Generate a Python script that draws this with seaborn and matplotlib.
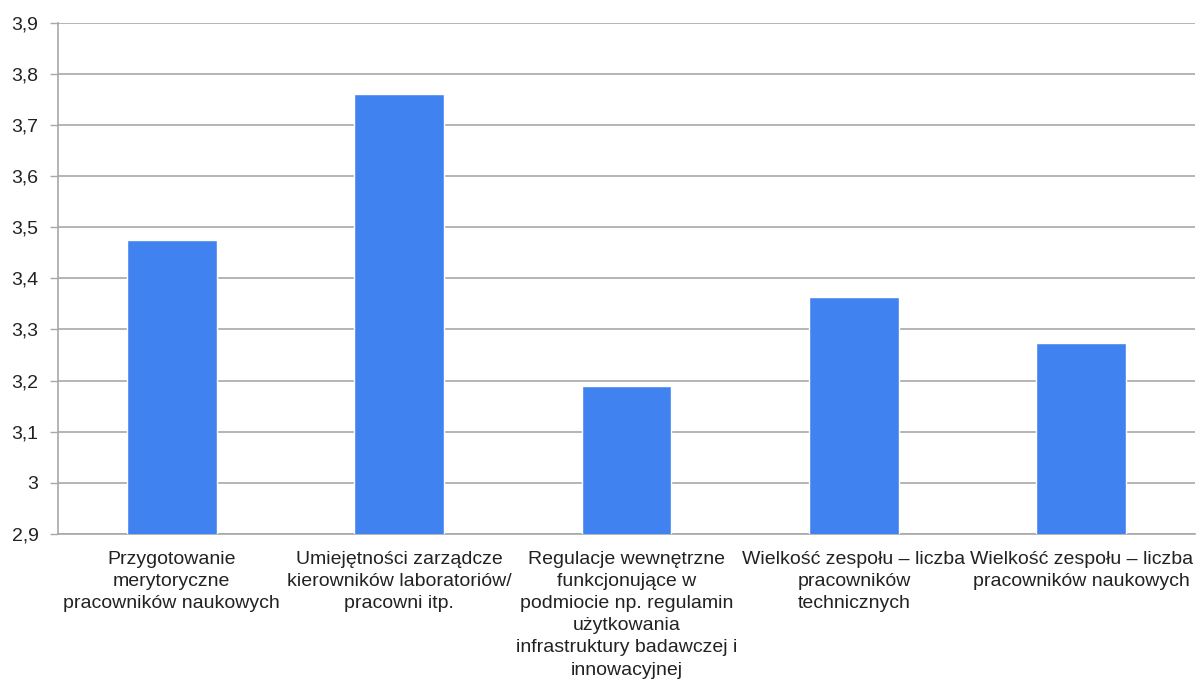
import matplotlib
matplotlib.use("Agg")
import matplotlib.pyplot as plt
import seaborn as sns
import pandas as pd

categories = [
    "Przygotowanie\nmerytoryczne\npracowników naukowych",
    "Umiejętności zarządcze\nkierowników laboratoriów/\npracowni itp.",
    "Regulacje wewnętrzne\nfunkcjonujące w\npodmiocie np. regulamin\nużytkowania\ninfrastruktury badawczej i\ninnowacyjnej",
    "Wielkość zespołu – liczba\npracowników\ntechnicznych",
    "Wielkość zespołu – liczba\npracowników naukowych",
]
values = [3.475, 3.760, 3.189, 3.363, 3.273]
y_ticks = [2.9, 3.0, 3.1, 3.2, 3.3, 3.4, 3.5, 3.6, 3.7, 3.8, 3.9]
y_tick_labels = ["2,9", "3", "3,1", "3,2", "3,3", "3,4", "3,5", "3,6", "3,7", "3,8", "3,9"]

sns.set_style("white")
plt.rcParams["font.family"] = ["Liberation Sans", "DejaVu Sans"]

df = pd.DataFrame({"cat": categories, "val": values})

fig = plt.figure(figsize=(11.96, 6.84), dpi=100)
ax = fig.add_axes([58 / 1196, 1 - 534 / 684, (1195 - 58) / 1196, (534 - 22.5) / 684])

sns.barplot(data=df, x="cat", y="val", color="#4083F0", saturation=1,
            width=0.395, ax=ax, zorder=3)

ax.set_ylim(2.9, 3.9)
ax.set_xlim(-0.5, 4.5)
ax.set_yticks(y_ticks)
ax.set_yticklabels(y_tick_labels, fontsize=14, color="#222222")
ax.yaxis.grid(True, color="#a8a8a8", linewidth=1.2, zorder=0)
ax.set_axisbelow(True)

ax.set_xticks(range(len(categories)))
ax.set_xticklabels(categories, fontsize=14, color="#222222", linespacing=1.4)
ax.tick_params(axis="x", length=0, pad=12)
ax.set_xticks([i - 0.5 for i in range(len(categories) + 1)], minor=True)
ax.tick_params(axis="x", which="minor", length=5, color="#a8a8a8", width=1)
ax.tick_params(axis="y", length=6, color="#a8a8a8", width=1, pad=8, left=True)

ax.set_xlabel("")
ax.set_ylabel("")
for side in ["top", "right"]:
    ax.spines[side].set_visible(False)
ax.spines["left"].set_color("#a8a8a8")
ax.spines["bottom"].set_color("#a8a8a8")
ax.spines["left"].set_linewidth(1.2)
ax.spines["bottom"].set_linewidth(1.2)

fig.savefig("out.png", dpi=100)
